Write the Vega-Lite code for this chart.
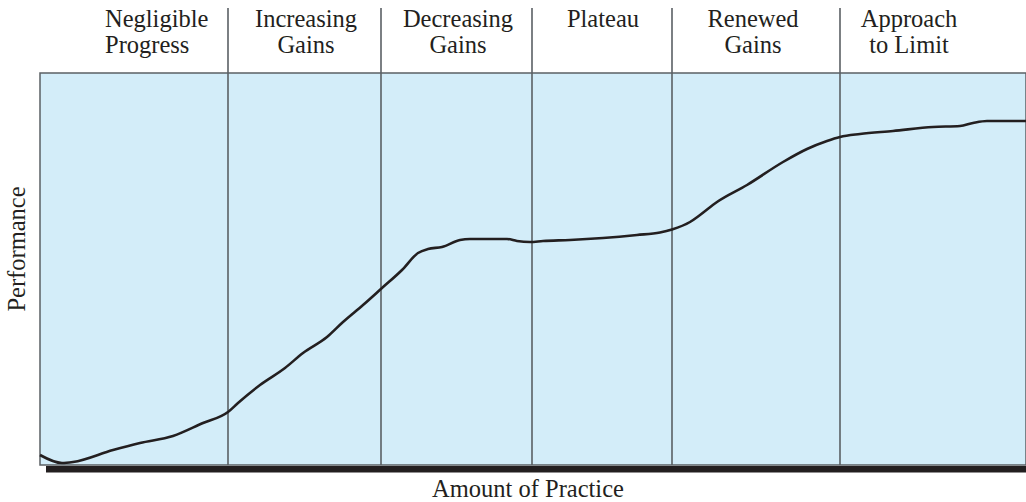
{
  "$schema": "https://vega.github.io/schema/vega-lite/v6.json",
  "width": 986,
  "height": 392,
  "autosize": {"type": "none"},
  "padding": {"left": 40, "top": 73, "right": 0, "bottom": 37},
  "background": "white",
  "config": {
    "view": {"fill": "#d3edf9", "stroke": "#5b6064", "strokeWidth": 1.5},
    "text": {"font": "Liberation Serif", "fontSize": 24.5, "color": "#231f20"}
  },
  "datasets": {
    "curve": [
      {"practice": 0, "performance": 10},
      {"practice": 22, "performance": 2},
      {"practice": 33, "performance": 3},
      {"practice": 73, "performance": 15},
      {"practice": 100, "performance": 22},
      {"practice": 133, "performance": 29},
      {"practice": 163, "performance": 42},
      {"practice": 188, "performance": 53},
      {"practice": 198, "performance": 62},
      {"practice": 220, "performance": 80},
      {"practice": 245, "performance": 97},
      {"practice": 263, "performance": 112},
      {"practice": 287, "performance": 128},
      {"practice": 303, "performance": 143},
      {"practice": 323, "performance": 160},
      {"practice": 342, "performance": 177},
      {"practice": 362, "performance": 195},
      {"practice": 378, "performance": 212},
      {"practice": 388, "performance": 216},
      {"practice": 402, "performance": 218},
      {"practice": 420, "performance": 225},
      {"practice": 430, "performance": 226},
      {"practice": 467, "performance": 226},
      {"practice": 477, "performance": 224},
      {"practice": 490, "performance": 223},
      {"practice": 503, "performance": 224},
      {"practice": 530, "performance": 225},
      {"practice": 563, "performance": 227},
      {"practice": 597, "performance": 230},
      {"practice": 620, "performance": 232.5},
      {"practice": 632, "performance": 235.5},
      {"practice": 650, "performance": 243},
      {"practice": 660, "performance": 250},
      {"practice": 677, "performance": 263},
      {"practice": 707, "performance": 280},
      {"practice": 743, "performance": 303},
      {"practice": 767, "performance": 316},
      {"practice": 787, "performance": 324},
      {"practice": 800, "performance": 328},
      {"practice": 820, "performance": 331},
      {"practice": 853, "performance": 334},
      {"practice": 893, "performance": 338},
      {"practice": 920, "performance": 339},
      {"practice": 933, "performance": 342},
      {"practice": 947, "performance": 344},
      {"practice": 986, "performance": 344}
    ],
    "dividers": [
      {"practice": 188, "bottom": 0, "top": 457},
      {"practice": 341, "bottom": 0, "top": 457},
      {"practice": 492, "bottom": 0, "top": 457},
      {"practice": 632, "bottom": 0, "top": 457},
      {"practice": 800, "bottom": 0, "top": 457}
    ],
    "phases": [
      {"practice": 266, "level": 438, "label": "Increasing\nGains"},
      {"practice": 418, "level": 438, "label": "Decreasing\nGains"},
      {"practice": 563, "level": 438, "label": "Plateau"},
      {"practice": 713, "level": 438, "label": "Renewed\nGains"},
      {"practice": 869, "level": 438, "label": "Approach\nto Limit"}
    ],
    "firstPhase": [
      {"practice": 65, "level": 438, "label": "Negligible\nProgress"}
    ],
    "baseline": [
      {"start": 6, "end": 986, "level": -4.3}
    ],
    "xTitle": [
      {"practice": 488, "level": -32, "label": "Amount of Practice"}
    ],
    "yTitle": [
      {"practice": -15, "level": 216, "label": "Performance"}
    ]
  },
  "layer": [
    {
      "data": {"name": "dividers"},
      "mark": {"type": "rule", "color": "#5b6064", "strokeWidth": 1.6},
      "encoding": {
        "x": {"field": "practice", "type": "quantitative", "scale": {"domain": [0, 986], "nice": false, "zero": false}, "axis": null},
        "y": {"field": "bottom", "type": "quantitative", "scale": {"domain": [0, 392], "nice": false, "zero": false}, "axis": null},
        "y2": {"field": "top"}
      }
    },
    {
      "data": {"name": "baseline"},
      "mark": {"type": "rule", "color": "#231f20", "strokeWidth": 6.5},
      "encoding": {
        "x": {"field": "start", "type": "quantitative"},
        "x2": {"field": "end"},
        "y": {"field": "level", "type": "quantitative"}
      }
    },
    {
      "data": {"name": "curve"},
      "mark": {"type": "line", "color": "#231f20", "strokeWidth": 2.6, "interpolate": "monotone"},
      "encoding": {
        "x": {"field": "practice", "type": "quantitative"},
        "y": {"field": "performance", "type": "quantitative"}
      }
    },
    {
      "data": {"name": "phases"},
      "mark": {"type": "text", "align": "center", "baseline": "alphabetic", "lineBreak": "\n", "lineHeight": 26},
      "encoding": {
        "x": {"field": "practice", "type": "quantitative"},
        "y": {"field": "level", "type": "quantitative"},
        "text": {"field": "label"}
      }
    },
    {
      "data": {"name": "firstPhase"},
      "mark": {"type": "text", "align": "left", "baseline": "alphabetic", "lineBreak": "\n", "lineHeight": 26},
      "encoding": {
        "x": {"field": "practice", "type": "quantitative"},
        "y": {"field": "level", "type": "quantitative"},
        "text": {"field": "label"}
      }
    },
    {
      "data": {"name": "xTitle"},
      "mark": {"type": "text", "align": "center", "baseline": "alphabetic"},
      "encoding": {
        "x": {"field": "practice", "type": "quantitative"},
        "y": {"field": "level", "type": "quantitative"},
        "text": {"field": "label"}
      }
    },
    {
      "data": {"name": "yTitle"},
      "mark": {"type": "text", "align": "center", "baseline": "alphabetic", "angle": 270},
      "encoding": {
        "x": {"field": "practice", "type": "quantitative"},
        "y": {"field": "level", "type": "quantitative"},
        "text": {"field": "label"}
      }
    }
  ]
}
